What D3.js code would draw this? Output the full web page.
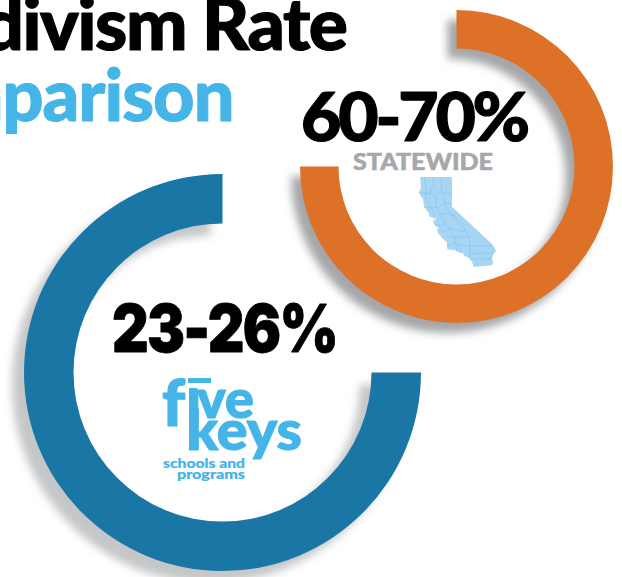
<!DOCTYPE html>
<html>
<head>
<meta charset="utf-8">
<script src="https://cdn.jsdelivr.net/npm/d3@7"></script>
<style>
  html, body { margin: 0; padding: 0; background: #fff; overflow: hidden; }
  svg { display: block; }
  text { font-family: Lato, sans-serif; font-weight: 900; }
</style>
</head>
<body>
<svg id="chart"></svg>
<script>
const ringLabels = ["60-70%", "23-26%"];
const ringShares = [75, 75];          // share of the circle each ring covers
const titleLines = ["Recidivism Rate", "Comparison"];
const stateCaption = "STATEWIDE";
const logoLines = ["schools and", "programs"];

// california outline and some county lines, [lon, lat]
const caOutline = [[-124.21,41.99],[-120.0,41.99],[-120.0,39.0],[-114.63,35.0],[-114.13,34.27],[-114.43,34.08],[-114.72,33.4],[-114.52,33.03],[-114.72,32.72],[-117.12,32.53],[-117.25,32.87],[-117.33,33.12],[-117.88,33.6],[-118.4,33.74],[-118.5,34.03],[-119.2,34.15],[-119.6,34.42],[-120.47,34.45],[-120.65,34.58],[-120.63,35.14],[-120.9,35.4],[-121.3,35.7],[-121.9,36.3],[-121.95,36.6],[-121.8,36.8],[-122.05,36.95],[-122.4,37.2],[-122.52,37.75],[-122.2,37.5],[-122.15,37.75],[-122.5,37.83],[-123.0,38.0],[-123.1,38.4],[-123.7,38.95],[-123.83,39.8],[-124.4,40.4],[-124.1,41.0],[-124.2,41.75]];
const caCounties = [
  [[-123.6,41.99],[-123.6,41.4],[-123.4,41.0],[-123.5,40.0],[-123.1,39.5],[-122.8,38.9],[-122.4,38.5],[-122.3,38.1]],
  [[-122.5,41.99],[-122.5,41.2],[-122.9,40.7],[-122.9,40.3],[-122.0,40.0],[-122.1,39.4],[-122.0,38.9],[-121.7,38.3],[-121.6,38.0],[-121.2,37.7],[-120.9,37.2],[-120.3,36.7],[-120.2,36.2],[-119.5,35.8],[-119.5,35.1],[-118.9,34.8],[-118.7,34.2]],
  [[-121.4,41.99],[-121.4,41.2],[-121.3,40.4],[-121.0,39.9],[-121.0,39.3],[-120.7,38.8],[-120.3,38.4],[-119.6,38.0],[-119.2,37.5],[-118.6,37.0],[-118.0,36.2],[-117.7,35.8],[-117.6,34.8],[-117.6,33.6]],
  [[-124.1,40.45],[-122.9,40.3]],
  [[-123.7,39.0],[-122.8,38.9],[-122.0,38.9],[-121.0,39.3],[-120.0,39.3]],
  [[-122.1,40.3],[-121.3,40.4],[-120.0,40.3]],
  [[-121.7,38.3],[-120.7,38.3],[-119.6,38.0]],
  [[-122.3,37.1],[-121.5,37.0],[-120.9,37.2]],
  [[-121.3,36.4],[-120.3,36.7],[-119.3,36.5],[-118.3,36.4]],
  [[-120.7,35.8],[-119.5,35.8],[-117.7,35.8]],
  [[-120.65,34.9],[-119.5,35.1],[-117.6,34.8],[-114.63,34.9]],
  [[-117.6,34.0],[-114.45,34.1]],
  [[-117.5,33.4],[-114.7,33.45]],
  [[-119.4,34.3],[-119.45,34.9]]
];

const svg = d3.select("#chart").attr("width", 622).attr("height", 577);

const defs = svg.append("defs");
defs.append("filter").attr("id", "soft")
  .attr("x", "-15%").attr("y", "-15%").attr("width", "130%").attr("height", "130%")
  .append("feGaussianBlur").attr("stdDeviation", 4);

function drawRing(cfg) {
  const g = svg.append("g").attr("transform", `translate(${cfg.cx},${cfg.cy})`);
  const pie = d3.pie().sort(null).startAngle(0).endAngle(cfg.sweep);
  const arc = d3.arc().innerRadius(cfg.inner).outerRadius(cfg.outer);
  const slice = pie([cfg.share, 100 - cfg.share])[0];

  g.append("path")
    .attr("d", arc(slice))
    .attr("transform", `translate(${cfg.shadow[0]},${cfg.shadow[1]})`)
    .attr("fill", cfg.shadowColor)
    .attr("filter", "url(#soft)");
  g.append("path")
    .attr("d", arc(slice))
    .attr("fill", cfg.color);
}

drawRing({ cx: 456.5, cy: 166.5, inner: 118, outer: 156.5, share: ringShares[0], sweep: 2 * Math.PI, color: "#dd7127", shadow: [-9, 10], shadowColor: "#a4a6a8" });
drawRing({ cx: 222.5, cy: 372.5, inner: 149, outer: 198.5, share: ringShares[1], sweep: -2 * Math.PI, color: "#1a77a5", shadow: [-12, 12], shadowColor: "#c4c6c8" });

// heavier than Lato Black in the source, so thicken with a stroke
function heavy(sel, color, w) {
  return sel.attr("fill", color).attr("stroke", color).attr("stroke-width", w).attr("stroke-linejoin", "round");
}

// title runs off the left edge like the source image
heavy(svg.append("text").attr("x", 346.5).attr("y", 49.5).attr("text-anchor", "end")
  .attr("font-size", 73).style("letter-spacing", "-1.4px").text(titleLines[0]), "#000", 1.2);
heavy(svg.append("text").attr("x", 233.5).attr("y", 120.5).attr("text-anchor", "end")
  .attr("font-size", 72).style("letter-spacing", "-1px").text(titleLines[1]), "#45b5e8", 1);

heavy(svg.append("text").attr("x", 301).attr("y", 140.5)
  .attr("font-size", 66).attr("textLength", 226).attr("lengthAdjust", "spacingAndGlyphs")
  .style("letter-spacing", "-3px").text(ringLabels[0]), "#000", 1.2);
heavy(svg.append("text").attr("x", 112).attr("y", 351.5)
  .attr("font-size", 66).attr("textLength", 225).attr("lengthAdjust", "spacingAndGlyphs")
  .style("font-family", "Inter, sans-serif").style("letter-spacing", "-2px").text(ringLabels[1]), "#000", 0.8);

heavy(svg.append("text").attr("x", 353).attr("y", 169.5)
  .attr("font-size", 22.5).attr("textLength", 140).attr("lengthAdjust", "spacingAndGlyphs")
  .text(stateCaption), "#a6a8ab", 0.5);

// california
const caFeature = { type: "Polygon", coordinates: [caOutline.concat([caOutline[0]])] };
const projection = d3.geoMercator().fitExtent([[418, 177], [497, 267]], caFeature);
const geoPath = d3.geoPath(projection);
svg.append("path").attr("d", geoPath(caFeature)).attr("fill", "#a6d6f4");
svg.append("path")
  .attr("d", geoPath({ type: "MultiLineString", coordinates: caCounties }))
  .attr("fill", "none").attr("stroke", "#7fc6ee").attr("stroke-width", 0.7);

// five keys logo
const logo = svg.append("g").attr("fill", "#45b5e8");
const five = heavy(logo.append("text").attr("font-size", 54), "#45b5e8", 1.2);
five.append("tspan").attr("x", 162).attr("y", 426).attr("font-size", 64).text("f");
five.append("tspan").attr("x", 187).attr("y", 418).text("\u0131");
five.append("tspan").attr("x", 197).attr("y", 418).text("ve");
logo.append("rect").attr("x", 188).attr("y", 378).attr("width", 23).attr("height", 5);
logo.append("rect").attr("x", 189).attr("y", 388).attr("width", 8).attr("height", 62);
heavy(logo.append("text").attr("x", 187).attr("y", 450).attr("font-size", 56)
  .attr("textLength", 115).attr("lengthAdjust", "spacingAndGlyphs").text("keys"), "#45b5e8", 1.2);
heavy(logo.append("text").attr("x", 163).attr("y", 468).attr("font-size", 13.5)
  .attr("textLength", 82).attr("lengthAdjust", "spacingAndGlyphs").text(logoLines[0]), "#45b5e8", 0.2);
heavy(logo.append("text").attr("x", 177).attr("y", 479).attr("font-size", 13.5)
  .attr("textLength", 68).attr("lengthAdjust", "spacingAndGlyphs").text(logoLines[1]), "#45b5e8", 0.2);
</script>
</body>
</html>
